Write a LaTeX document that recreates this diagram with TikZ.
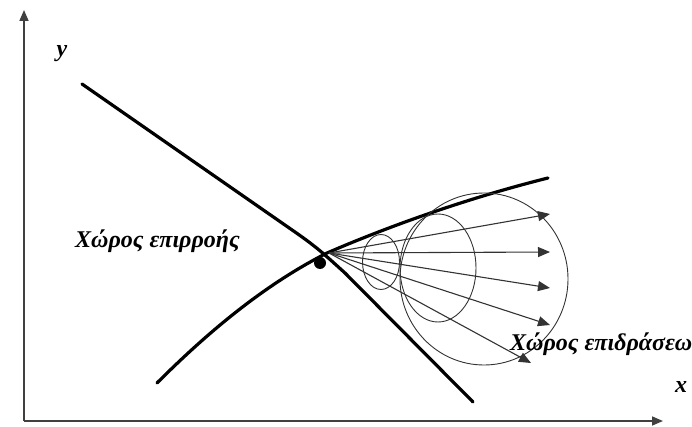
\documentclass[tikz,border=0pt]{standalone}
\usepackage{fontspec}
\setmainfont{Liberation Serif}
\usetikzlibrary{arrows.meta}
\begin{document}
\begin{tikzpicture}[x=1pt,y=-1pt,
  axis/.style={line width=1.6pt,draw=black!75,-{Triangle[length=11pt,width=9pt]}},
  bound/.style={line width=3.2pt,line cap=round},
  ray/.style={line width=1.1pt,draw=black!80,-{Triangle[length=12pt,width=10pt]}},
  zone/.style={line width=0.9pt,draw=black!80},
  lab/.style={font=\fontsize{24}{28}\selectfont\bfseries\itshape,inner sep=0pt}]
\useasboundingbox (0,0) rectangle (692,427);
% axes
\coordinate (O) at (24,421);
\coordinate (Ytip) at (24,10);
\coordinate (Xtip) at (663,421);
\draw[axis] (O) -- (Ytip);
\draw[axis] (O) -- (Xtip);
\node[lab] (ylab) at (62,54) {y};
\node[lab] (xlab) at (681,387) {x};
% boundary curves
\draw[bound] (82,84) -- (295,232) .. controls (318,248) and (325,255) .. (345,273) -- (473,402);
\draw[bound] (157,383) .. controls (215,325) and (270,282) .. (327,253) .. controls (380,230) and (460,200) .. (548,178);
% point
\fill (320,263) circle[radius=6];
% zones
\draw[zone] (381,262) ellipse[x radius=18.5,y radius=27.5];
\draw[zone] (438,268) ellipse[x radius=38,y radius=54];
\draw[zone] (484,279) ellipse[x radius=84,y radius=86];
% rays
\coordinate (F) at (329,253);
\coordinate (t1) at (550,214);
\coordinate (t2) at (550,252);
\coordinate (t3) at (550,288);
\coordinate (t4) at (550,325);
\coordinate (t5) at (531,363);
\foreach \t in {t1,t2,t3,t4,t5} \draw[ray] (F) -- (\t);
% labels
\node[lab,anchor=west] (infl) at (75,241) {Χώρος επιρροής};
\node[lab,anchor=west] (eff) at (510,344) {Χώρος επιδράσεων};
\end{tikzpicture}
\end{document}
